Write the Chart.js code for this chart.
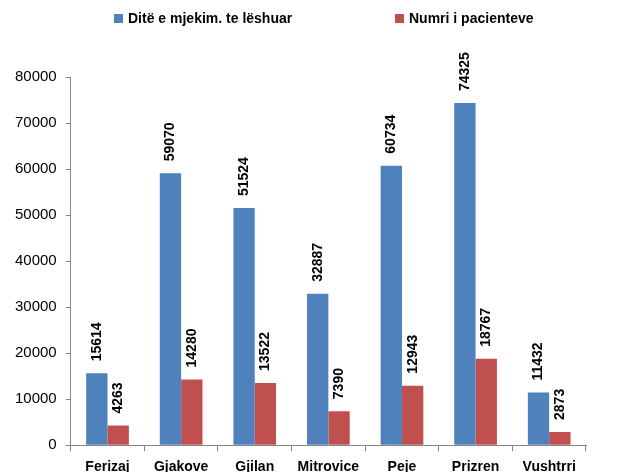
<!DOCTYPE html>
<html><head><meta charset="utf-8">
<script src="https://cdn.jsdelivr.net/npm/chart.js@4"></script>
<style>html,body{margin:0;padding:0;overflow:hidden;background:#fff}</style>
</head>
<body>
<div style="width:630px;height:490px"><canvas id="c" width="630" height="490"></canvas></div>
<script>
const categories = ["Ferizaj","Gjakove","Gjilan","Mitrovice","Peje","Prizren","Vushtrri"];
const seriesNames = ["Ditë e mjekim. te lëshuar","Numri i pacienteve"];
const ditet = [15614,59070,51524,32887,60734,74325,11432];
const pacientet = [4263,14280,13522,7390,12943,18767,2873];
const yTicks = [0,10000,20000,30000,40000,50000,60000,70000,80000];
const colors = ["#4F81BD","#C0504D"];
const FONT = "'Liberation Sans', Arial, sans-serif";

const labelPlugin = {
  id: 'valueLabels',
  afterDatasetsDraw(chart) {
    const ctx = chart.ctx;
    ctx.save();
    ctx.font = "bold 14px " + FONT;
    ctx.fillStyle = "#000";
    chart.data.datasets.forEach((ds, i) => {
      const meta = chart.getDatasetMeta(i);
      meta.data.forEach((el, j) => {
        ctx.save();
        ctx.translate(el.x, el.y - 12);
        ctx.rotate(-Math.PI / 2);
        ctx.textAlign = 'left';
        ctx.textBaseline = 'middle';
        ctx.fillText(String(ds.data[j]), 0, 0);
        ctx.restore();
      });
    });
    ctx.restore();
  }
};

const legendPlugin = {
  id: 'customLegend',
  afterDraw(chart) {
    const ctx = chart.ctx;
    const xs = [114, 395];
    ctx.save();
    ctx.font = "bold 14px " + FONT;
    ctx.textBaseline = 'middle';
    ctx.textAlign = 'left';
    chart.data.datasets.forEach((ds, i) => {
      ctx.fillStyle = ds.backgroundColor;
      ctx.fillRect(xs[i], 14, 9, 9);
      ctx.fillStyle = "#000";
      ctx.fillText(ds.label, xs[i] + 14, 19);
    });
    ctx.restore();
  }
};

new Chart(document.getElementById('c'), {
  type: 'bar',
  data: {
    labels: categories,
    datasets: [
      { label: seriesNames[0], data: ditet, backgroundColor: colors[0], borderWidth: 0 },
      { label: seriesNames[1], data: pacientet, backgroundColor: colors[1], borderWidth: 0 }
    ]
  },
  options: {
    responsive: false,
    animation: false,
    devicePixelRatio: 1,
    layout: { padding: { left: 6, right: 44, top: 77, bottom: 6 } },
    datasets: { bar: { categoryPercentage: 0.58, barPercentage: 1 } },
    plugins: { legend: { display: false }, tooltip: { enabled: false } },
    scales: {
      x: {
        grid: { display: true, drawOnChartArea: false, drawTicks: true, tickLength: 6, color: "#868686", offset: true },
        border: { display: true, color: "#868686", width: 1 },
        ticks: { color: "#000", font: { family: FONT, size: 14, weight: 'bold' }, padding: 8, maxRotation: 0, autoSkip: false }
      },
      y: {
        min: 0, max: 80000,
        afterBuildTicks(axis) { axis.ticks = yTicks.map(v => ({ value: v })); },
        grid: { display: true, drawOnChartArea: false, drawTicks: true, tickLength: 5, color: "#868686" },
        border: { display: true, color: "#868686", width: 1 },
        ticks: { color: "#000", font: { family: FONT, size: 15 }, padding: 9, callback: v => String(v) }
      }
    }
  },
  plugins: [labelPlugin, legendPlugin]
});
</script>
</body></html>
